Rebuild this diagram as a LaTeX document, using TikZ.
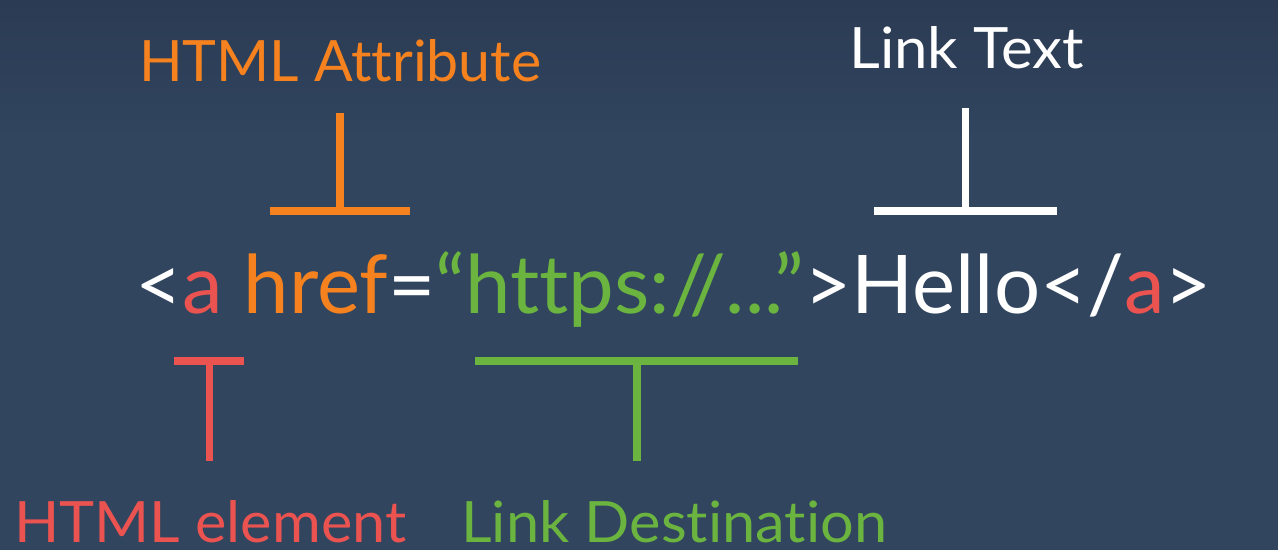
\documentclass[tikz,border=0pt]{standalone}
\usepackage{fontspec}
\usepackage{graphicx}
\setmainfont{Lato}[Ligatures=NoCommon]
\definecolor{bgtop}{HTML}{2B3B53}
\definecolor{bgmain}{HTML}{31455F}
\definecolor{attrorange}{HTML}{F5821F}
\definecolor{elemred}{HTML}{EA5350}
\definecolor{destgreen}{HTML}{6AB43F}
\definecolor{plainwhite}{HTML}{FFFFFF}

% Set #2 horizontally stretched to a width of #1 pt
\newcommand\fitwidth[2]{%
  \setbox0=\hbox{#2}%
  \dimen0=\wd0
  \pgfmathsetmacro\fitfactor{#1/\the\dimen0}%
  \scalebox{\fitfactor}[1]{\box0}}

\tikzset{
  label text/.style={inner sep=0pt, anchor=base west, font=\fontsize{57}{57}\selectfont},
  code text/.style={inner sep=0pt, anchor=base west, font=\fontsize{81}{81}\selectfont, text=plainwhite},
  bracket/.style={line width=7.5pt, line cap=butt},
}

\begin{document}
\begin{tikzpicture}[x=1pt, y=-1pt]
  % background
  \useasboundingbox (0,0) rectangle (1278,550);
  \fill[bgmain] (0,0) rectangle (1278,550);
  \shade[top color=bgtop, bottom color=bgmain] (0,0) rectangle (1278,140);

  % labels above
  \node[label text, text=attrorange] (attr) at (139,81) {\fitwidth{402}{HTML Attribute}};
  \node[label text, text=plainwhite] (linktext) at (849,68) {\fitwidth{235}{Link Text}};

  % the anchor tag
  \node[code text] (code) at (135,313) {\fitwidth{1077}{%
    <\textcolor{elemred}{a} \textcolor{attrorange}{href}=\textcolor{destgreen}{“https://...”}>Hello</\textcolor{elemred}{a}>}};

  % labels below
  \node[label text, text=elemred] (elem) at (14,542) {\fitwidth{392}{HTML element}};
  \node[label text, text=destgreen] (dest) at (461,542) {\fitwidth{426}{Link Destination}};

  % bracket end points
  \coordinate (attrtop) at (340,113);
  \coordinate (attrmid) at (340,211);
  \coordinate (attrl) at (270,211);
  \coordinate (attrr) at (410,211);

  \coordinate (texttop) at (965.5,108);
  \coordinate (textmid) at (965.5,211);
  \coordinate (textl) at (874,211);
  \coordinate (textr) at (1057,211);

  \coordinate (eleml) at (174,361);
  \coordinate (elemr) at (244,361);
  \coordinate (elemmid) at (209.5,361);
  \coordinate (elembot) at (209.5,461);

  \coordinate (destl) at (475,361);
  \coordinate (destr) at (798,361);
  \coordinate (destmid) at (637,361);
  \coordinate (destbot) at (637,461);

  % brackets
  \draw[bracket, attrorange] (attrtop) -- (attrmid) (attrl) -- (attrr);
  \draw[bracket, plainwhite] (texttop) -- (textmid) (textl) -- (textr);
  \draw[bracket, elemred] (eleml) -- (elemr) (elemmid) -- (elembot);
  \draw[bracket, destgreen] (destl) -- (destr) (destmid) -- (destbot);
\end{tikzpicture}
\end{document}
